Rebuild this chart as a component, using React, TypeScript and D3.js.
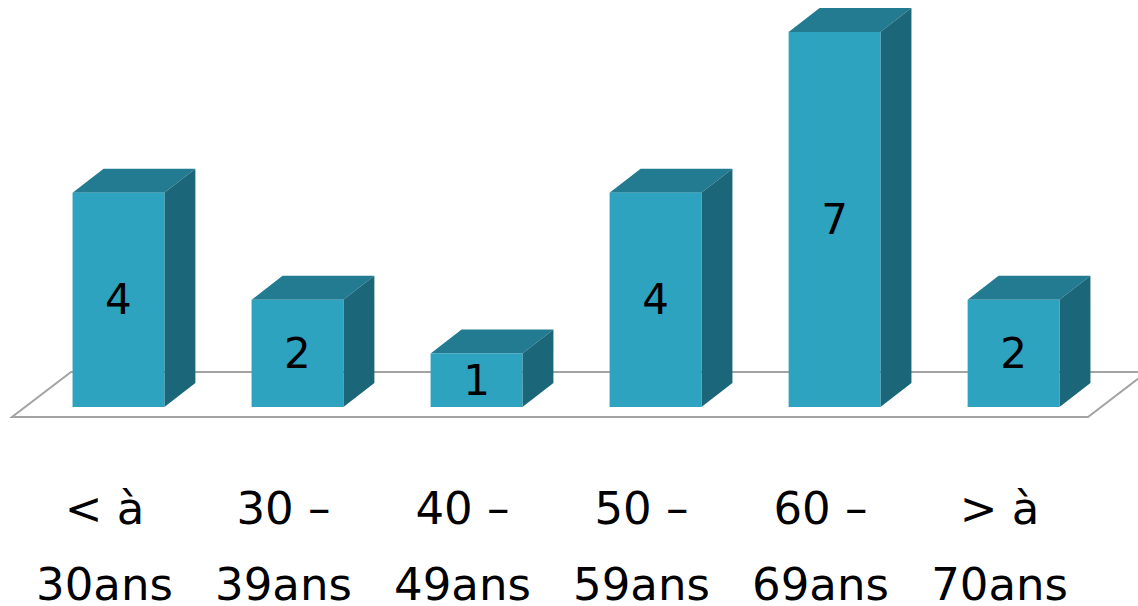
import React from "react";
import * as d3 from "d3";

const categories = ["< à|30ans", "30 –|39ans", "40 –|49ans", "50 –|59ans", "60 –|69ans", "> à|70ans"];
const values = [4, 2, 1, 4, 7, 2];

const W = 1138;
const H = 606;
const BASE_Y = 407;
const DX = 31;
const DY = -24;
const FRONT = "#2ea3c0";
const TOP = "#237b92";
const SIDE = "#1c6679";

export default function App() {
  const x = d3.scaleBand<string>().domain(categories).range([26, 1106]).paddingInner(0.487).paddingOuter(0.26);
  const y = d3.scaleLinear().domain([0, 7]).range([BASE_Y, 32]);
  const bw = x.bandwidth();

  const floor = [
    [12, 417],
    [1088, 417],
    [1088 + 59, 372],
    [12 + 59, 372],
  ];
  const floorPath = d3.line()(floor as [number, number][]) + "Z";

  return (
    <svg width={W} height={H} style={{ position: "absolute", left: 0, top: 0, background: "#fff" }}>
      <path d={floorPath} fill="#fff" stroke="#a3a3a3" strokeWidth={2} />
      {categories.map((c, i) => {
        const x0 = x(c)!;
        const x1 = x0 + bw;
        const yt = y(values[i]);
        const yb = y(0);
        return (
          <g key={c}>
            <polygon points={`${x0},${yt} ${x0 + DX},${yt + DY} ${x1 + DX},${yt + DY} ${x1},${yt}`} fill={TOP} />
            <polygon points={`${x1},${yt} ${x1 + DX},${yt + DY} ${x1 + DX},${yb + DY} ${x1},${yb}`} fill={SIDE} />
            <rect x={x0} y={yt} width={bw} height={yb - yt} fill={FRONT} />
            <text
              x={x0 + bw / 2}
              y={(yt + yb) / 2}
              textAnchor="middle"
              dominantBaseline="central"
              fontFamily="DejaVu Sans"
              fontSize={42}
              fill="#000"
            >
              {values[i]}
            </text>
          </g>
        );
      })}
      {categories.map((c) => {
        const cx = x(c)! + bw / 2 - 14;
        const [l1, l2] = c.split("|");
        return (
          <g key={"l" + c} fontFamily="DejaVu Sans" fontSize={45} fill="#000" textAnchor="middle">
            <text x={cx} y={524}>{l1}</text>
            <text x={cx} y={600}>{l2}</text>
          </g>
        );
      })}
    </svg>
  );
}
